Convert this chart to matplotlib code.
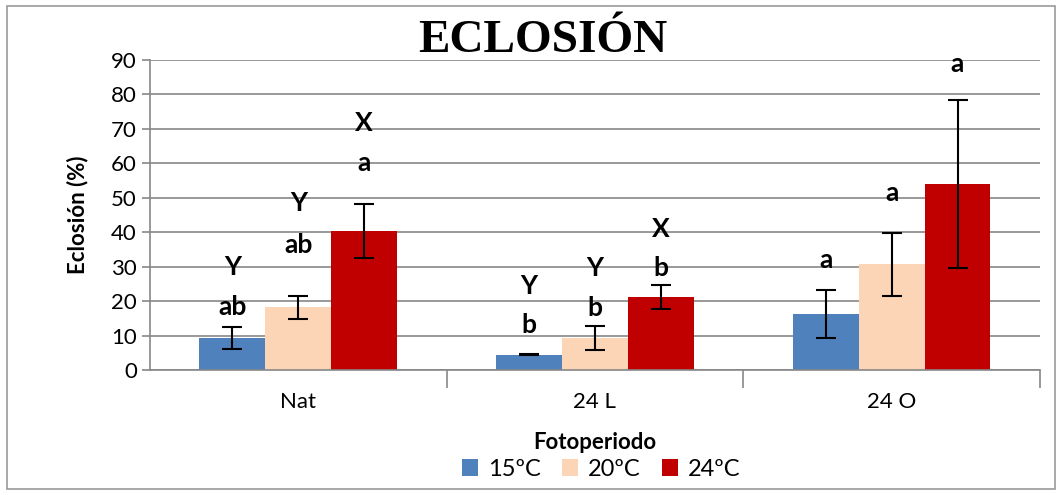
import numpy as np
import matplotlib.pyplot as plt
from matplotlib.patches import Rectangle

categories = ["Nat", "24 L", "24 O"]
series = ["15ºC", "20ºC", "24ºC"]
colors = ["#4F81BD", "#FBD5B5", "#C00000"]

vals15 = [9.3, 4.5, 16.2]
vals20 = [18.2, 9.3, 30.7]
vals24 = [40.3, 21.2, 54.0]
err15 = [3.2, 0.15, 7.0]
err20 = [3.3, 3.6, 9.2]
err24 = [7.8, 3.4, 24.5]

# significance letters: (category index, series index, text, y position)
letters = [
    (0, 0, "Y", 30.0), (0, 0, "ab", 18.3),
    (0, 1, "Y", 48.5), (0, 1, "ab", 36.2),
    (0, 2, "X", 71.8), (0, 2, "a", 60.2),
    (1, 0, "Y", 24.4), (1, 0, "b", 13.0),
    (1, 1, "Y", 29.6), (1, 1, "b", 18.0),
    (1, 2, "X", 41.0), (1, 2, "b", 29.6),
    (2, 0, "a", 32.0),
    (2, 1, "a", 51.4),
    (2, 2, "a", 88.8),
]

plt.rcParams['font.family'] = ['Lato', 'DejaVu Sans']

fig = plt.figure(figsize=(10.62, 4.95), dpi=100)
ax = fig.add_axes([0.1412, 0.2525, 0.8380, 0.6263])

x = np.arange(len(categories))
w = 0.2222
allvals = [vals15, vals20, vals24]
allerr = [err15, err20, err24]
for i in range(3):
    ax.bar(x + (i - 1) * w, allvals[i], w, color=colors[i], label=series[i], zorder=2)
    ax.errorbar(x + (i - 1) * w, allvals[i], yerr=allerr[i], fmt='none',
                ecolor='black', elinewidth=1.5, capsize=7, capthick=1.5, zorder=3)

for ci, si, txt, yy in letters:
    ax.text(ci + (si - 1) * w, yy, txt, ha='center', va='center',
            fontsize=19, fontweight='bold', zorder=4)

ax.set_xlim(-0.5, 2.5)
ax.set_ylim(0, 90)
ax.set_yticks(range(0, 91, 10))
ax.yaxis.grid(True, color='#878787', linewidth=1.2, zorder=0)
ax.set_axisbelow(True)
for s in ['top', 'right']:
    ax.spines[s].set_visible(False)
ax.spines['left'].set_color('#878787')
ax.spines['bottom'].set_color('#878787')
ax.spines['left'].set_linewidth(1.2)
ax.spines['bottom'].set_linewidth(1.2)

ax.set_xticks(x)
ax.set_xticklabels(categories, fontsize=16)
ax.tick_params(axis='x', length=0, pad=16)
ax.set_xticks([0.5, 1.5, 2.5], minor=True)
ax.tick_params(axis='x', which='minor', length=13, color='#878787', width=1.2)
ax.tick_params(axis='y', labelsize=16, length=6, color='#878787', width=1.2)

ax.set_ylabel("Eclosión (%)", fontsize=16, fontweight='bold', labelpad=16)
ax.set_xlabel("Fotoperiodo", fontsize=16, fontweight='bold', labelpad=14)

fig.text(0.511, 0.918, "ECLOSIÓN", ha='center', va='center', fontsize=34,
         fontweight='bold', family='Liberation Serif')

ax.legend(loc='center', bbox_to_anchor=(0.566, 0.052), bbox_transform=fig.transFigure,
          ncol=3, frameon=False, fontsize=17, handlelength=0.7, handleheight=0.7,
          handletextpad=0.4, columnspacing=0.9)

fig.patches.append(Rectangle((0.007, 0.012), 0.986, 0.975, transform=fig.transFigure,
                             fill=False, edgecolor='#999999', linewidth=1.2))

fig.savefig("out.png", dpi=100)
